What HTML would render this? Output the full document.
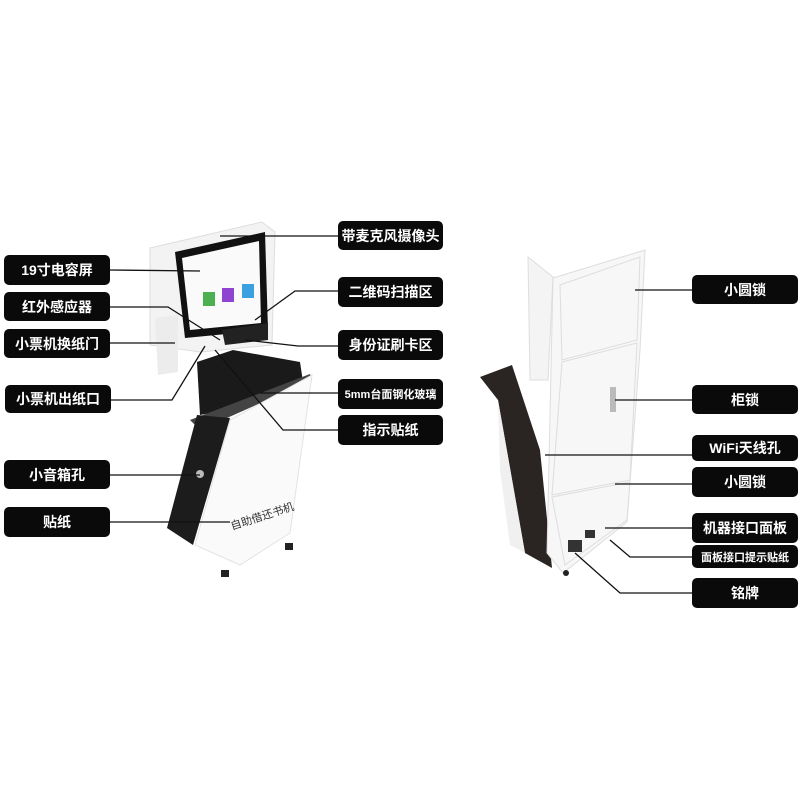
<!DOCTYPE html>
<html><head><meta charset="utf-8"><style>
body{margin:0;background:#fff;}
.wrap{position:relative;width:800px;height:800px;overflow:hidden;background:#fff;font-family:"Liberation Sans","Noto Sans CJK SC",sans-serif;}
.b{position:absolute;background:#0a0a0a;color:#fff;border-radius:5px;font-weight:bold;font-size:14px;display:flex;align-items:center;justify-content:center;white-space:nowrap;}
svg{position:absolute;left:0;top:0;}
</style></head><body><div class="wrap">
<svg width="800" height="800">
<!-- left kiosk -->
<polygon points="150,248 262,222 275,232 272,345 200,352 150,345" fill="#f3f3f3" stroke="#ddd"/>
<polygon points="155,318 178,315 178,372 158,375" fill="#ececec"/>
<polygon points="175,252 265,232 268,330 185,338" fill="#111"/>
<polygon points="182,258 259,241 261,323 190,330" fill="#fafafa"/>
<rect x="203" y="292" width="12" height="14" fill="#4caf50"/>
<rect x="222" y="288" width="12" height="14" fill="#8e44d0"/>
<rect x="242" y="284" width="12" height="14" fill="#3aa0e0"/>
<polygon points="222,330 268,323 268,340 225,345" fill="#222"/>
<polygon points="197,362 233,350 300,362 305,395 200,415" fill="#1a1a1a"/>
<polygon points="190,420 310,374 312,380 200,430" fill="#444"/>
<polygon points="230,420 312,375 290,533 240,565 195,545" fill="#fafafa" stroke="#e3e3e3"/>
<polygon points="197,415 230,418 193,545 167,528" fill="#1c1c1c"/>
<text x="232" y="530" font-size="11" fill="#333" transform="rotate(-18 232 530)">自助借还书机</text>
<circle cx="200" cy="474" r="4" fill="#bbb"/>
<rect x="221" y="570" width="8" height="7" fill="#222"/>
<rect x="285" y="543" width="8" height="7" fill="#222"/>
<!-- right kiosk -->
<polygon points="528,257 553,277 548,380 530,380" fill="#f4f4f4" stroke="#ddd"/>
<polygon points="480,377 512,365 540,450 552,568 525,553 498,400" fill="#2a2422"/>
<polygon points="498,400 525,553 510,545 500,470" fill="#f0f0f0"/>
<polygon points="553,278 645,250 640,350 627,522 563,573 547,553" fill="#f7f7f7" stroke="#ddd"/>
<polygon points="560,285 640,257 637,340 562,360" fill="none" stroke="#ddd"/>
<polygon points="562,362 637,343 630,480 552,495" fill="none" stroke="#ddd"/>
<polygon points="552,497 630,482 627,520 565,565" fill="none" stroke="#ddd"/>
<rect x="610" y="387" width="6" height="25" fill="#bbb"/>
<rect x="568" y="540" width="14" height="12" fill="#333"/>
<rect x="585" y="530" width="10" height="8" fill="#333"/>
<circle cx="566" cy="573" r="3" fill="#222"/>
<!-- leader lines -->
<g stroke="#111" stroke-width="1.3" fill="none">
<polyline points="110,270 200,271"/>
<polyline points="110,307 168,307 220,340"/>
<polyline points="110,343 175,343"/>
<polyline points="110,400 172,400 205,346"/>
<polyline points="110,475 200,475"/>
<polyline points="110,522 230,522"/>
<polyline points="338,236 220,236"/>
<polyline points="338,291 295,291 255,320"/>
<polyline points="338,346 298,346 245,340"/>
<polyline points="338,393 260,393"/>
<polyline points="338,430 283,430 215,350"/>
<polyline points="692,290 635,290"/>
<polyline points="692,400 615,400"/>
<polyline points="692,455 545,455"/>
<polyline points="692,484 615,484"/>
<polyline points="692,528 605,528"/>
<polyline points="692,557 630,557 610,540"/>
<polyline points="692,593 620,593 575,553"/>
</g>
</svg>
<div class="b" style="left:4px;top:255px;width:106px;height:30px">19寸电容屏</div>
<div class="b" style="left:4px;top:292px;width:106px;height:29px">红外感应器</div>
<div class="b" style="left:4px;top:329px;width:106px;height:29px">小票机换纸门</div>
<div class="b" style="left:5px;top:385px;width:106px;height:28px">小票机出纸口</div>
<div class="b" style="left:4px;top:460px;width:106px;height:29px">小音箱孔</div>
<div class="b" style="left:4px;top:507px;width:106px;height:30px">贴纸</div>
<div class="b" style="left:338px;top:221px;width:105px;height:29px">带麦克风摄像头</div>
<div class="b" style="left:338px;top:277px;width:105px;height:30px">二维码扫描区</div>
<div class="b" style="left:338px;top:330px;width:105px;height:30px">身份证刷卡区</div>
<div class="b" style="left:338px;top:379px;width:105px;height:30px;font-size:11px">5mm台面钢化玻璃</div>
<div class="b" style="left:338px;top:415px;width:105px;height:30px">指示贴纸</div>
<div class="b" style="left:692px;top:275px;width:106px;height:29px">小圆锁</div>
<div class="b" style="left:692px;top:385px;width:106px;height:29px">柜锁</div>
<div class="b" style="left:692px;top:435px;width:106px;height:26px">WiFi天线孔</div>
<div class="b" style="left:692px;top:467px;width:106px;height:30px">小圆锁</div>
<div class="b" style="left:692px;top:513px;width:106px;height:30px">机器接口面板</div>
<div class="b" style="left:692px;top:545px;width:106px;height:23px;font-size:11px">面板接口提示贴纸</div>
<div class="b" style="left:692px;top:578px;width:106px;height:30px">铭牌</div>
</div></body></html>
